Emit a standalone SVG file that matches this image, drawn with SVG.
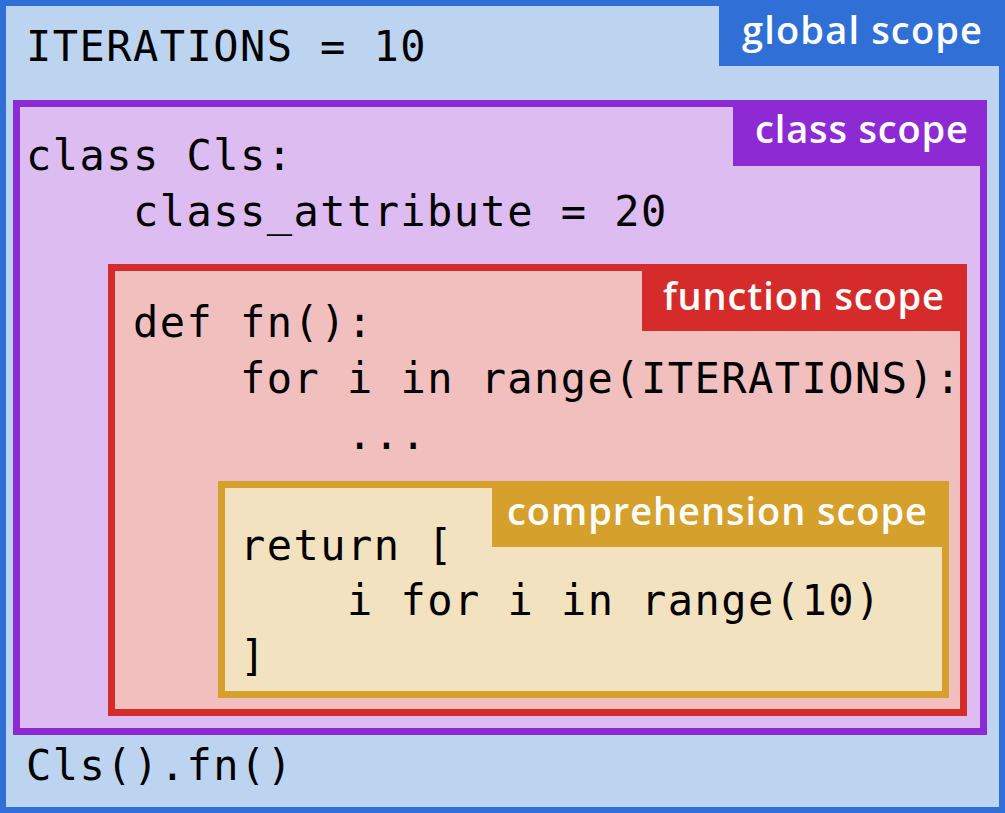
<svg xmlns="http://www.w3.org/2000/svg" width="1005" height="813" viewBox="0 0 1005 813">
<style>
.code{font-family:"DejaVu Sans Mono","Liberation Mono",monospace;font-size:42px;letter-spacing:1.45px;fill:#000}
.lbl{font-family:"Open Sans","Noto Sans","Liberation Sans",sans-serif;font-weight:600;font-size:38px;fill:#fff}
</style>
<g id="global-scope">
<rect x="3" y="3" width="999" height="807" fill="#bdd4f1" stroke="#2f6fd6" stroke-width="6"/>
<rect x="719" y="0" width="286" height="66" fill="#2f6fd6"/>
<text class="lbl" x="742" y="44" textLength="240" lengthAdjust="spacing">global scope</text>
<text class="code" x="26" y="61">ITERATIONS = 10</text>
<text class="code" x="26" y="780">Cls().fn()</text>
</g>
<g id="class-scope">
<rect x="16.5" y="103.5" width="967" height="628" fill="#dcbcf1" stroke="#8e2ad4" stroke-width="7"/>
<rect x="733" y="100" width="254" height="66" fill="#8e2ad4"/>
<text class="lbl" x="755" y="143" textLength="213" lengthAdjust="spacing">class scope</text>
<text class="code" x="26" y="170">class Cls:</text>
<text class="code" x="133" y="226">class_attribute = 20</text>
</g>
<g id="function-scope">
<rect x="111.5" y="267.5" width="852" height="445" fill="#f2bfbf" stroke="#d62b2b" stroke-width="7"/>
<rect x="642" y="264" width="325" height="67" fill="#d62b2b"/>
<text class="lbl" x="663" y="310" textLength="281" lengthAdjust="spacing">function scope</text>
<text class="code" x="133" y="337">def fn():</text>
<text class="code" x="240" y="393">for i in range(ITERATIONS):</text>
<text class="code" x="347" y="449">...</text>
</g>
<g id="comprehension-scope">
<rect x="221.5" y="484.5" width="724" height="210" fill="#f3e2bf" stroke="#d5a02c" stroke-width="7"/>
<rect x="492" y="481" width="457" height="66" fill="#d5a02c"/>
<text class="lbl" x="507" y="525" textLength="420" lengthAdjust="spacing">comprehension scope</text>
<text class="code" x="240" y="560">return [</text>
<text class="code" x="347" y="615">i for i in range(10)</text>
<text class="code" x="240" y="671">]</text>
</g>
</svg>
